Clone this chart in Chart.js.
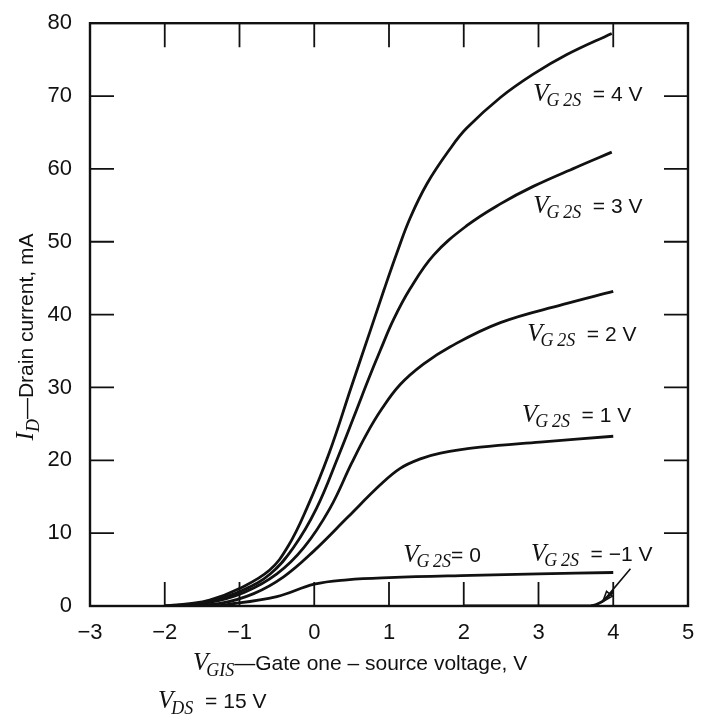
<!DOCTYPE html>
<html>
<head>
<meta charset="utf-8">
<script src="https://cdn.jsdelivr.net/npm/chart.js@4.4.0/dist/chart.umd.min.js"></script>
<style>
  html, body { margin: 0; padding: 0; background: #fff; }
</style>
</head>
<body>
<canvas id="chart" width="702" height="720"></canvas>
<script>
// tick values
const xTicks = [-3, -2, -1, 0, 1, 2, 3, 4, 5];
const yTicks = [0, 10, 20, 30, 40, 50, 60, 70, 80];

// gate two voltage of each curve
const gate2Volts = [4, 3, 2, 1, 0, -1];

// I_D (mA) against V_G1S (V)
const vg4X = [-2, -1.7, -1.4, -1.0, -0.6, -0.35, -0.1, 0.2, 0.5, 0.75, 0.93, 1.11, 1.28, 1.51, 1.82, 2.04, 2.49, 2.93, 3.38, 3.98];
const vg4Y = [0, 0.3, 0.8, 2.4, 4.9, 8.2, 13.4, 21, 30.2, 37.8, 43.3, 48.6, 53.2, 58.0, 62.8, 65.6, 69.8, 73.0, 75.7, 78.6];

const vg3X = [-2, -1.7, -1.4, -0.95, -0.59, -0.28, 0.03, 0.32, 0.55, 0.72, 0.88, 1.06, 1.28, 1.6, 2.04, 2.49, 2.93, 3.5, 3.98];
const vg3Y = [0, 0.2, 0.6, 2.2, 4.4, 8.0, 13.4, 20.5, 26.5, 31.0, 35.0, 39.3, 43.5, 48.2, 52.2, 55.2, 57.6, 60.2, 62.3];

const vg2X = [-2, -1.4, -0.93, -0.5, -0.14, 0.21, 0.5, 0.7, 0.9, 1.15, 1.46, 1.82, 2.49, 3.33, 4.0];
const vg2Y = [0, 0.5, 1.9, 4.4, 8.0, 13.4, 19.6, 23.6, 27.0, 30.4, 33.2, 35.6, 38.9, 41.4, 43.2];

const vg1X = [-1.8, -1.26, -0.81, -0.41, 0.0, 0.44, 0.88, 1.15, 1.42, 1.69, 2.22, 3.02, 4.0];
const vg1Y = [0, 0.35, 1.7, 4.0, 7.6, 12.1, 16.6, 18.9, 20.2, 21.0, 21.8, 22.5, 23.3];

const vg0X = [-1.3, -0.5, 0.0, 0.44, 1.0, 2.1, 3.0, 4.0];
const vg0Y = [0, 1.3, 3.0, 3.6, 3.9, 4.2, 4.4, 4.6];

const vgm1X = [2.0, 3.7, 3.85, 4.0];
const vgm1Y = [0, 0.05, 0.6, 2.0];

const curvesX = [vg4X, vg3X, vg2X, vg1X, vg0X, vgm1X];
const curvesY = [vg4Y, vg3Y, vg2Y, vg1Y, vg0Y, vgm1Y];

// label text per curve, anchored (left, baseline) in data units
const curveLabels = [
    { rest: '  = 4 V', x: 2.93, y: 69.3 },
    { rest: '  = 3 V', x: 2.93, y: 54.0 },
    { rest: '  = 2 V', x: 2.85, y: 36.4 },
    { rest: '  = 1 V', x: 2.78, y: 25.2 },
    { rest: '= 0', x: 1.19, y: 6.0 },
    { rest: '  = \u22121 V', x: 2.90, y: 6.2 }
];

const VF = 'italic 25px "Liberation Serif"';
const SF = 'italic 18px "Liberation Serif"';
const NF = '21px "Liberation Sans"';
const INK = '#111';

function drawRich(ctx, x, y, parts) {
    let cx = x;
    parts.forEach(p => {
        ctx.font = p.font;
        ctx.fillText(p.t, cx + (p.dx || 0), y + (p.dy || 0));
        cx += (p.dx || 0) + ctx.measureText(p.t).width;
    });
    return cx - x;
}

function richWidth(ctx, parts) {
    let w = 0;
    parts.forEach(p => {
        ctx.font = p.font;
        w += (p.dx || 0) + ctx.measureText(p.t).width;
    });
    return w;
}

const framePlugin = {
    id: 'frame',
    afterDraw(chart) {
        const ctx = chart.ctx;
        const xs = chart.scales.x;
        const ys = chart.scales.y;
        const a = chart.chartArea;
        ctx.save();
        ctx.strokeStyle = INK;
        ctx.fillStyle = INK;

        // box
        ctx.lineWidth = 2.4;
        ctx.strokeRect(a.left, a.top, a.right - a.left, a.bottom - a.top);

        // inward ticks on all four sides
        ctx.lineWidth = 1.8;
        const tl = 24;
        ctx.beginPath();
        xTicks.slice(1, -1).forEach(v => {
            const px = xs.getPixelForValue(v);
            ctx.moveTo(px, a.bottom); ctx.lineTo(px, a.bottom - tl);
            ctx.moveTo(px, a.top); ctx.lineTo(px, a.top + tl);
        });
        yTicks.slice(1, -1).forEach(v => {
            const py = ys.getPixelForValue(v);
            ctx.moveTo(a.left, py); ctx.lineTo(a.left + tl, py);
            ctx.moveTo(a.right, py); ctx.lineTo(a.right - tl, py);
        });
        ctx.stroke();

        // curve labels
        ctx.textBaseline = 'alphabetic';
        ctx.textAlign = 'left';
        curveLabels.forEach(l => {
            drawRich(ctx, xs.getPixelForValue(l.x), ys.getPixelForValue(l.y), [
                { t: 'V', font: VF },
                { t: 'G\u20092S', font: SF, dx: -2, dy: 5 },
                { t: l.rest, font: NF }
            ]);
        });

        // arrow to the -1 V curve
        const ax0 = xs.getPixelForValue(4.23), ay0 = ys.getPixelForValue(5.1);
        const ax1 = xs.getPixelForValue(3.86), ay1 = ys.getPixelForValue(0.6);
        const ang = Math.atan2(ay1 - ay0, ax1 - ax0);
        ctx.lineWidth = 1.6;
        ctx.beginPath();
        ctx.moveTo(ax0, ay0); ctx.lineTo(ax1, ay1);
        ctx.moveTo(ax1, ay1);
        ctx.lineTo(ax1 - 11 * Math.cos(ang - 0.35), ay1 - 11 * Math.sin(ang - 0.35));
        ctx.lineTo(ax1 - 11 * Math.cos(ang + 0.35), ay1 - 11 * Math.sin(ang + 0.35));
        ctx.closePath();
        ctx.stroke();

        // x axis title
        drawRich(ctx, 193, 670, [
            { t: 'V', font: VF },
            { t: 'GIS', font: SF, dx: -2, dy: 6 },
            { t: '\u2014Gate one \u2013 source voltage, V', font: NF }
        ]);
        drawRich(ctx, 158, 708, [
            { t: 'V', font: VF },
            { t: 'DS', font: SF, dx: -2, dy: 6 },
            { t: ' = 15 V', font: NF, dx: 6 }
        ]);

        // y axis title, rotated
        const yParts = [
            { t: 'I', font: VF },
            { t: 'D', font: SF, dx: 0, dy: 6 },
            { t: '\u2014Drain current, mA', font: NF }
        ];
        ctx.translate(33, 337);
        ctx.rotate(-Math.PI / 2);
        drawRich(ctx, -richWidth(ctx, yParts) / 2, 0, yParts);

        ctx.restore();
    }
};

const datasets = gate2Volts.map((v, i) => ({
    label: 'VG2S = ' + v + ' V',
    data: curvesX[i].map((x, j) => ({ x: x, y: curvesY[i][j] })),
    borderColor: INK,
    borderWidth: 2.8,
    pointRadius: 0,
    fill: false,
    tension: 0.4
}));

new Chart(document.getElementById('chart'), {
    type: 'line',
    data: { datasets: datasets },
    options: {
        responsive: false,
        animation: false,
        layout: { padding: { left: 0, right: 14, top: 15, bottom: 0 } },
        plugins: {
            legend: { display: false },
            tooltip: { enabled: false }
        },
        scales: {
            x: {
                type: 'linear',
                min: -3,
                max: 5,
                afterFit: s => { s.height = 114; },
                afterBuildTicks: s => { s.ticks = xTicks.map(v => ({ value: v })); },
                grid: { display: false },
                border: { display: false },
                ticks: {
                    padding: 6,
                    color: INK,
                    font: { family: 'Liberation Sans', size: 22 },
                    callback: v => String(v).replace('-', '\u2212')
                }
            },
            y: {
                min: 0,
                max: 80,
                afterFit: s => { s.width = 90; },
                afterBuildTicks: s => { s.ticks = yTicks.map(v => ({ value: v })); },
                grid: { display: false },
                border: { display: false },
                ticks: {
                    padding: 10,
                    color: INK,
                    font: { family: 'Liberation Sans', size: 22 }
                }
            }
        }
    },
    plugins: [framePlugin]
});
</script>
</body>
</html>
